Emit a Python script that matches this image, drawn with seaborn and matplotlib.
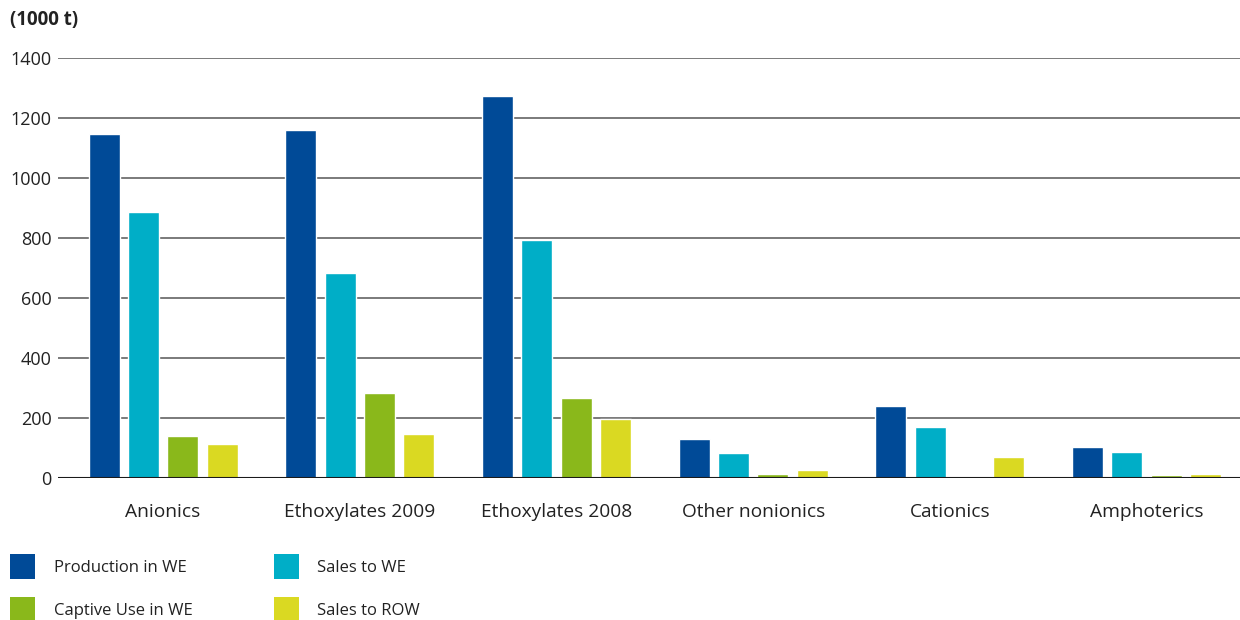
import matplotlib
matplotlib.use("Agg")
import matplotlib.pyplot as plt
import seaborn as sns
import pandas as pd
from matplotlib.patches import Patch

categories = ["Anionics", "Ethoxylates 2009", "Ethoxylates 2008", "Other nonionics", "Cationics", "Amphoterics"]
series = ["Production in WE", "Sales to WE", "Captive Use in WE", "Sales to ROW"]
production_we = [1147, 1160, 1273, 130, 240, 103]
sales_we = [887, 683, 793, 83, 170, 87]
captive_we = [140, 283, 267, 16, 0, 11]
sales_row = [113, 147, 197, 28, 70, 14]
y_ticks = [0, 200, 400, 600, 800, 1000, 1200, 1400]
colors = ["#004A97", "#00AEC7", "#8AB81B", "#DAD922"]

rows = []
for s, vals in zip(series, [production_we, sales_we, captive_we, sales_row]):
    for c, v in zip(categories, vals):
        rows.append({"category": c, "series": s, "value": v})
df = pd.DataFrame(rows)

sns.set_theme(style="white")
plt.rcParams["font.family"] = ["Open Sans", "DejaVu Sans"]

fig = plt.figure(figsize=(12.4, 6.2), dpi=100)
ax = fig.add_axes([0.0468, 0.2285, 0.9532, 0.6774])

sns.barplot(data=df, x="category", y="value", hue="series", order=categories,
            hue_order=series, palette=colors, width=0.8, gap=0.21,
            saturation=1, ax=ax, legend=False)

ax.set_xlim(-0.534, len(categories) - 0.525)
ax.set_ylim(0, 1400)
ax.set_yticks(y_ticks)
ax.set_yticklabels([str(t) for t in y_ticks], fontsize=13, color="#222222")
ax.set_xlabel("")
ax.set_ylabel("")
ax.tick_params(axis="x", length=0, pad=17.5, labelsize=13.8, labelcolor="#222222")
ax.tick_params(axis="y", length=0, pad=4.5)
for s in ax.spines.values():
    s.set_visible(False)
ax.set_axisbelow(True)
ax.yaxis.grid(True, color="#707070", linewidth=1.3)
ax.axhline(0, color="#1a1a1a", linewidth=1.5, zorder=5)

fig.text(0.008, 0.967, "(1000 t)", fontsize=13.5, fontweight="bold", color="#222222",
         ha="left", va="center")

handles = [Patch(facecolor=c, edgecolor="none", label=s) for s, c in zip(series, colors)]
order = [0, 2, 1, 3]
fig.legend([handles[i] for i in order], [series[i] for i in order], ncol=2,
           loc="upper left", bbox_to_anchor=(0.0016, 0.1201), frameon=False,
           fontsize=12, handlelength=1.5, handleheight=1.93, handletextpad=1.1,
           columnspacing=4.9, labelspacing=1.08, borderaxespad=0, borderpad=0.5,
           labelcolor="#222222")

fig.savefig("out.png", dpi=100)
